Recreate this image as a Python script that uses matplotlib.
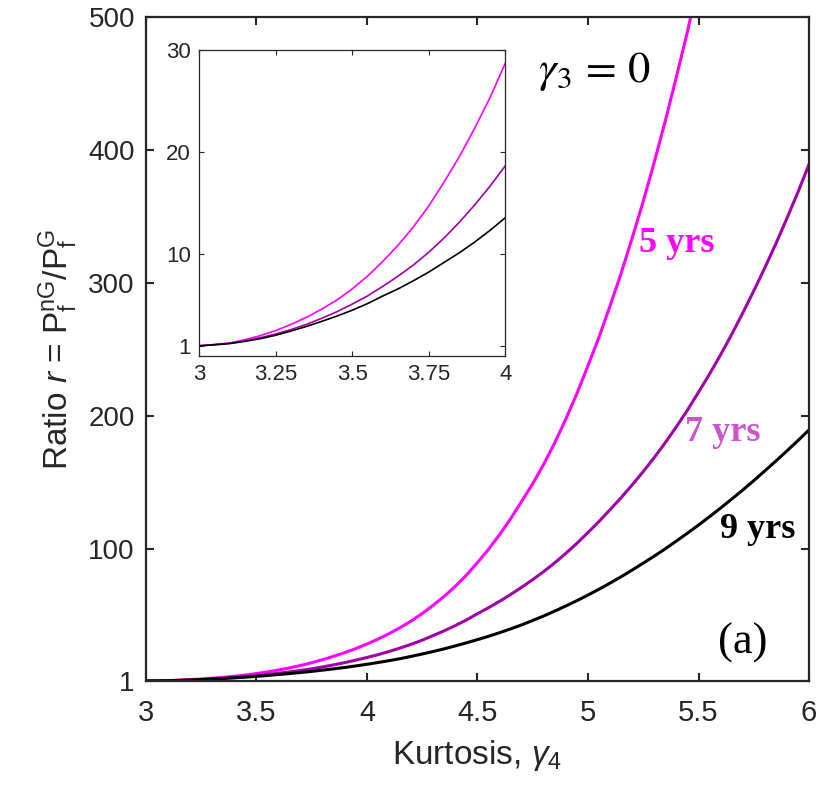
import numpy as np
import matplotlib.pyplot as plt

plt.rcParams['font.family'] = ['Liberation Sans', 'DejaVu Sans']
plt.rcParams['mathtext.fontset'] = 'custom'
plt.rcParams['mathtext.rm'] = 'Liberation Sans'
plt.rcParams['mathtext.it'] = 'Liberation Sans:italic'

# kurtosis grid, step 0.05 from 3 to 6
kurt = np.linspace(3, 6, 61)

# ratio r for each inspection interval
r_5yrs = [1.0, 1.13, 1.28, 1.6, 2.0, 2.5, 3.1, 3.8, 4.6, 5.5, 6.6,
          7.85, 9.3, 10.9, 12.7, 14.75, 17.1, 19.6, 22.4, 25.4, 28.8,
          32.5, 36.6, 41.1, 46.1, 51.7, 58.0, 64.7, 72.2, 80.6, 90.0,
          100.0, 111.0, 123.0, 136.0, 149.3, 164.0, 180.2, 198.0, 217.1, 238.0,
          259.5, 283.0, 307.4, 334.0, 361.5, 391.0, 422.0, 455.0, 489.0, 527.0]
r_7yrs = [1.0, 1.12, 1.26, 1.5, 1.8, 2.16, 2.6, 3.1, 3.7, 4.35, 5.1,
          5.9, 6.85, 7.85, 8.95, 10.2, 11.6, 13.15, 14.85, 16.7, 18.7,
          20.8, 23.2, 25.8, 28.6, 31.7, 35.2, 38.8, 42.7, 46.9, 51.6,
          56.1, 60.9, 66.0, 71.5, 77.2, 83.3, 89.9, 97.0, 104.5, 112.6,
          120.9, 129.8, 138.8, 148.4, 158.4, 169.0, 180.2, 192.1, 204.6, 218.0,
          231.7, 246.2, 261.4, 277.5, 294.2, 311.5, 329.6, 348.7, 368.4, 389.2]
r_9yrs = [1.0, 1.1, 1.22, 1.44, 1.7, 2.04, 2.45, 2.9, 3.4, 3.92, 4.5,
          5.15, 5.9, 6.6, 7.4, 8.25, 9.2, 10.15, 11.2, 12.35, 13.6,
          14.9, 16.3, 17.8, 19.5, 21.3, 23.2, 25.2, 27.4, 29.7, 32.1,
          34.6, 37.3, 40.2, 43.2, 46.5, 49.9, 53.6, 57.4, 61.4, 65.6,
          70.0, 74.6, 79.4, 84.4, 89.6, 94.9, 100.4, 106.2, 112.1, 118.2,
          124.5, 131.0, 137.7, 144.5, 151.6, 158.9, 166.3, 173.9, 181.7, 189.7]

series = [
    (r_5yrs, '#ff00ff', '5 yrs', '#ff00ff', (5.40, 330)),
    (r_7yrs, '#a000a8', '7 yrs', '#cc55cc', (5.61, 188)),
    (r_9yrs, '#000000', '9 yrs', '#000000', (5.77, 115)),
]

grey = '#262626'

fig = plt.figure(figsize=(8.21, 7.94), dpi=100)
ax = fig.add_axes([0.1778, 0.1423, 0.8076, 0.8363])

for vals, col, lab, lab_col, pos in series:
    ax.plot(kurt[:len(vals)], vals, color=col, lw=2.2)
    ax.text(pos[0], pos[1], lab, color=lab_col, fontsize=26, fontweight='bold',
            family='Liberation Serif', ha='center', va='center')

ax.set_xlim(3, 6)
ax.set_ylim(1, 500)
ax.set_xticks([3, 3.5, 4, 4.5, 5, 5.5, 6])
ax.set_xticklabels(['3', '3.5', '4', '4.5', '5', '5.5', '6'])
ax.set_yticks([1, 100, 200, 300, 400, 500])
ax.tick_params(direction='in', top=True, right=True, length=6, width=1.5,
               labelsize=20, colors=grey, labelcolor=grey)
ax.tick_params(axis='x', pad=13, labelsize=21)
ax.tick_params(axis='y', pad=8)
for sp in ax.spines.values():
    sp.set_linewidth(1.6)
    sp.set_color(grey)

ax.set_xlabel(r'Kurtosis, $\gamma_4$', fontsize=24, color=grey, labelpad=8)
ax.set_ylabel(r'Ratio $r$ = P$_\mathregular{f}^\mathregular{nG}$/P$_\mathregular{f}^\mathregular{G}$',
              fontsize=24, color=grey, labelpad=6)

ax.text(5.03, 459, r'$\gamma_3\,=\,0$', fontsize=32, math_fontfamily='stix',
        ha='center', va='center')
ax.text(5.70, 30, '(a)', fontsize=32, family='Liberation Serif',
        ha='center', va='center')

# zoomed view of the low-kurtosis range
ins = fig.add_axes([0.2424, 0.5516, 0.3733, 0.3848])
for vals, col, lab, lab_col, pos in series:
    ins.plot(kurt[:len(vals)], vals, color=col, lw=1.2)
ins.set_xlim(3, 4)
ins.set_ylim(0, 30)
ins.set_xticks([3, 3.25, 3.5, 3.75, 4])
ins.set_xticklabels(['3', '3.25', '3.5', '3.75', '4'])
ins.set_yticks([1, 10, 20, 30])
ins.tick_params(direction='in', top=True, right=True, length=3.5, width=0.8,
                labelsize=16, colors=grey, labelcolor=grey, pad=6)
for sp in ins.spines.values():
    sp.set_linewidth(0.9)
    sp.set_color(grey)

plt.savefig('out.png', dpi=100)
